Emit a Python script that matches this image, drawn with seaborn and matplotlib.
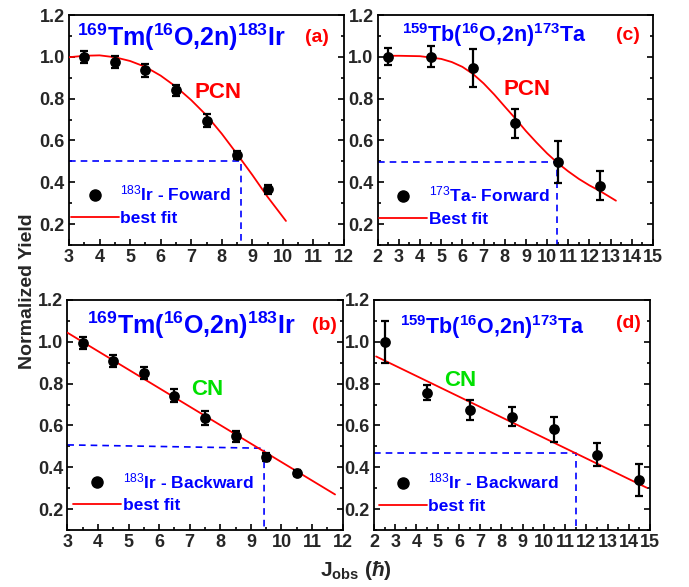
import numpy as np
import matplotlib
matplotlib.use("Agg")
import matplotlib.pyplot as plt
from matplotlib.lines import Line2D
from matplotlib.ticker import MultipleLocator, FormatStrFormatter
import seaborn as sns

# ---------------- data ----------------
# (a) 169Tm(16O,2n)183Ir forward
a_x = [3.5, 4.5, 5.5, 6.5, 7.5, 8.5, 9.5]
a_y = [1.00, 0.975, 0.935, 0.84, 0.695, 0.53, 0.366]
a_err = [0.028, 0.028, 0.03, 0.025, 0.03, 0.02, 0.02]
a_fit_x = [3.0, 3.5, 4.0, 4.5, 5.0, 5.5, 6.0, 6.5, 7.0, 7.5, 8.0, 8.5, 9.0, 9.5, 10.1]
a_fit_y = [0.998, 1.005, 1.007, 0.998, 0.98, 0.952, 0.91, 0.857, 0.793, 0.72, 0.632, 0.535, 0.435, 0.33, 0.215]
a_half = (8.62, 0.503)

# (c) 159Tb(16O,2n)173Ta forward
c_x = [2.5, 4.5, 6.5, 8.5, 10.5, 12.5]
c_y = [1.00, 1.00, 0.947, 0.682, 0.496, 0.384]
c_err = [0.04, 0.05, 0.09, 0.07, 0.10, 0.07]
c_fit_x = [2.5, 3.0, 4.0, 5.0, 5.5, 6.0, 6.5, 7.0, 7.5, 8.0, 8.5, 9.0, 9.5, 10.0, 10.5, 11.0, 11.5, 12.0, 12.5, 13.25]
c_fit_y = [1.005, 1.005, 1.003, 0.99, 0.975, 0.952, 0.918, 0.873, 0.82, 0.762, 0.705, 0.645, 0.59, 0.538, 0.492, 0.452, 0.416, 0.385, 0.358, 0.312]
c_half = (10.46, 0.497)

# (b) 169Tm(16O,2n)183Ir backward
b_x = [3.5, 4.5, 5.5, 6.5, 7.5, 8.5, 9.5, 10.5]
b_y = [0.995, 0.908, 0.852, 0.742, 0.635, 0.548, 0.45, 0.372]
b_err = [0.03, 0.03, 0.028, 0.03, 0.035, 0.025, 0.02, 0.015]
b_fit_x = [3.0, 11.75]
b_fit_y = [1.044, 0.27]
b_half_x = [3.0, 9.43, 9.43]
b_half_y = [0.507, 0.491, 0.1]

# (d) 159Tb(16O,2n)173Ta backward
d_x = [2.5, 4.5, 6.5, 8.5, 10.5, 12.5, 14.5]
d_y = [1.00, 0.757, 0.674, 0.642, 0.581, 0.461, 0.34]
d_err = [0.10, 0.037, 0.05, 0.045, 0.06, 0.057, 0.075]
d_fit_x = [2.1, 14.85]
d_fit_y = [0.93, 0.302]
d_half = (11.5, 0.467)

titles = [r"$^{\mathbf{169}}$Tm($^{\mathbf{16}}$O,2n)$^{\mathbf{183}}$Ir",
          r"$^{\mathbf{159}}$Tb($^{\mathbf{16}}$O,2n)$^{\mathbf{173}}$Ta",
          r"$^{\mathbf{169}}$Tm($^{\mathbf{16}}$O,2n)$^{\mathbf{183}}$Ir",
          r"$^{\mathbf{159}}$Tb($^{\mathbf{16}}$O,2n)$^{\mathbf{173}}$Ta"]
panel_tags = ["(a)", "(c)", "(b)", "(d)"]
mech_labels = ["PCN", "PCN", "CN", "CN"]
data_labels = [r"$^{\mathrm{183}}$Ir - Foward", r"$^{\mathrm{173}}$Ta- Forward",
               r"$^{\mathrm{183}}$Ir - Backward", r"$^{\mathrm{183}}$Ir - Backward"]
fit_labels = ["best fit", "Best fit", "best fit", "best fit"]

# ---------------- style ----------------
sns.set_theme(style="ticks")
plt.rcParams["font.family"] = ["Liberation Sans", "DejaVu Sans"]
plt.rcParams["font.weight"] = "bold"
plt.rcParams["mathtext.fontset"] = "custom"
plt.rcParams["mathtext.rm"] = "Liberation Sans:regular"
plt.rcParams["mathtext.bf"] = "Liberation Sans:bold"
plt.rcParams["mathtext.it"] = "Liberation Sans:italic:bold"

BLUE = "#0000ff"
RED = "#ff0000"
GREEN = "#00e000"

W, H = 689, 587
fig = plt.figure(figsize=(W / 100, H / 100), dpi=100)


def ax_at(l, r, t, b):
    return fig.add_axes([l / W, 1 - b / H, (r - l) / W, (b - t) / H])


ax_a = ax_at(69, 344, 15, 245)
ax_c = ax_at(377.7, 653, 15, 245)
ax_b = ax_at(67.3, 342.7, 300, 530)
ax_d = ax_at(374, 650, 300, 530)
axes = [ax_a, ax_c, ax_b, ax_d]

sets = [(a_x, a_y, a_err, a_fit_x, a_fit_y),
        (c_x, c_y, c_err, c_fit_x, c_fit_y),
        (b_x, b_y, b_err, b_fit_x, b_fit_y),
        (d_x, d_y, d_err, d_fit_x, d_fit_y)]
xlims = [(3, 12), (2, 15), (3, 12), (2, 15)]
title_size = [18, 15.5, 18, 15.5]
title_pos = [(0.029, 0.904), (0.087, 0.913), (0.073, 0.891), (0.094, 0.884)]
tag_pos = [(0.90, 0.904), (0.909, 0.913), (0.935, 0.891), (0.921, 0.90)]
mech_pos = [(0.542, 0.661), (0.542, 0.678), (0.507, 0.613), (0.312, 0.652)]
leg_pos = [(0.007, 0.174), (0.005, 0.17), (0.021, 0.165), (0.018, 0.161)]

for i, ax in enumerate(axes):
    x, y, e, fx, fy = sets[i]
    # half-yield guide lines
    if i == 0:
        hx, hy = a_half
        ax.plot([xlims[i][0], hx, hx], [hy, hy, 0.1], ls=(0, (4, 3)), color=BLUE, lw=1.2)
    elif i == 1:
        hx, hy = c_half
        ax.plot([xlims[i][0], hx, hx], [hy, hy, 0.1], ls=(0, (4, 3)), color=BLUE, lw=1.2)
    elif i == 2:
        ax.plot(b_half_x, b_half_y, ls=(0, (4, 3)), color=BLUE, lw=1.2)
    else:
        hx, hy = d_half
        ax.plot([xlims[i][0], hx, hx], [hy, hy, 0.1], ls=(0, (4, 3)), color=BLUE, lw=1.2)

    sns.lineplot(x=fx, y=fy, ax=ax, color=RED, lw=1.3, zorder=3)
    ax.errorbar(x, y, yerr=e, fmt="none", ecolor="black", elinewidth=1.6,
                capsize=3, capthick=1.6, zorder=4)
    sns.scatterplot(x=x, y=y, ax=ax, color="black", s=60, edgecolor="black",
                    linewidth=0, zorder=5)

    ax.set_xlim(*xlims[i])
    ax.set_ylim(0.1, 1.2)
    ax.xaxis.set_major_locator(MultipleLocator(1))
    ax.xaxis.set_minor_locator(MultipleLocator(0.5))
    ax.yaxis.set_minor_locator(MultipleLocator(0.1))
    ax.set_yticks([0.2, 0.4, 0.6, 0.8, 1.0, 1.2])
    ax.yaxis.set_major_formatter(FormatStrFormatter("%.1f"))
    ax.tick_params(which="both", direction="in", top=False, right=True,
                   bottom=True, left=True, width=1.2, color="black")
    ax.tick_params(which="major", length=4.5, labelsize=13, pad=3)
    ax.tick_params(which="minor", length=2.5)
    for s in ax.spines.values():
        s.set_linewidth(1.3)
        s.set_color("black")
    ax.set_xlabel("")
    ax.set_ylabel("")

    ax.text(*title_pos[i], titles[i], transform=ax.transAxes, color=BLUE,
            fontsize=title_size[i], fontweight="bold", ha="left", va="center")
    ax.text(*tag_pos[i], panel_tags[i], transform=ax.transAxes, color=RED,
            fontsize=14, fontweight="bold", ha="center", va="center")
    ax.text(*mech_pos[i], mech_labels[i], transform=ax.transAxes,
            color=RED if i < 2 else GREEN, fontsize=16, fontweight="bold",
            ha="center", va="center")

    handles = [Line2D([], [], marker="o", ls="none", color="black", markersize=8),
               Line2D([], [], color=RED, lw=1.3)]
    leg = ax.legend(handles, [data_labels[i], fit_labels[i]], loc="center left",
                    bbox_to_anchor=leg_pos[i], frameon=False, fontsize=12.5,
                    handlelength=2.75, handletextpad=0.1, labelspacing=0.4,
                    borderpad=0, borderaxespad=0)
    for t in leg.get_texts():
        t.set_color(BLUE)
        t.set_fontweight("bold")

fig.text(28 / W, 1 - 291 / H, "Normalized Yield", rotation=90, fontsize=14,
         fontweight="bold", ha="center", va="center")
fig.text(356 / W, 1 - 570 / H, r"J$_{\mathbf{obs}}$ ($\hbar$)", fontsize=15,
         fontweight="bold", ha="center", va="center")

fig.canvas.draw()
for ax in axes:
    for lab in ax.get_xticklabels() + ax.get_yticklabels():
        lab.set_fontweight("bold")

fig.savefig("out.png", dpi=100)
